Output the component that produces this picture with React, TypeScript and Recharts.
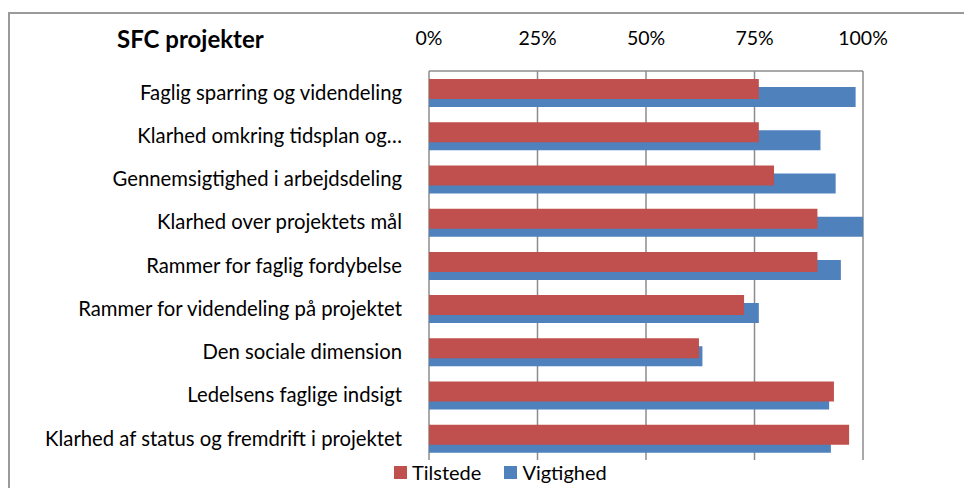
import React from 'react';
import { BarChart, Bar, XAxis, YAxis, CartesianGrid } from 'recharts';

const categories = [
  'Faglig sparring og videndeling',
  'Klarhed omkring tidsplan  og…',
  'Gennemsigtighed i arbejdsdeling',
  'Klarhed over projektets mål',
  'Rammer for faglig fordybelse',
  'Rammer for videndeling på projektet',
  'Den sociale dimension',
  'Ledelsens faglige indsigt',
  'Klarhed af status og fremdrift i projektet',
];
const tilstede = [76, 76, 79.5, 89.5, 89.5, 72.6, 62.2, 93.3, 96.8];
const vigtighed = [98.3, 90.2, 93.7, 100, 94.9, 76, 63, 92.2, 92.6];
const xTicks = [0, 25, 50, 75, 100];
const bandBoundaries = [0, 1, 2, 3, 4, 5, 6, 7, 8, 9];
const seriesNames = ['Tilstede', 'Vigtighed'];
const seriesColors = ['#C0504D', '#4F81BD'];
const title = 'SFC projekter';

const data = categories.map((name, i) => ({
  name,
  Tilstede: tilstede[i],
  Vigtighed: vigtighed[i],
}));

const FONT = 'Lato, "Open Sans", sans-serif';
const GRID = '#8c8c8c';

export default function App() {
  return (
    <div style={{ position: 'relative', width: 964, height: 480, overflow: 'hidden', fontFamily: FONT }}>
      <div
        style={{
          position: 'absolute',
          left: 0,
          top: 4,
          width: 1000,
          height: 1000,
          border: '2px solid #9a9a9a',
          boxSizing: 'border-box',
        }}
      />
      <div
        style={{
          position: 'absolute',
          left: 109,
          top: 17,
          fontSize: 24,
          fontWeight: 700,
          lineHeight: '28px',
          color: '#000',
        }}
      >
        {title}
      </div>
      <div style={{ position: 'absolute', left: 0, top: 0 }}>
        <BarChart
          width={964}
          height={480}
          data={data}
          layout="vertical"
          margin={{ top: 0, right: 109, bottom: 28, left: 0 }}
        >
          <CartesianGrid horizontal={false} vertical={true} stroke={GRID} strokeWidth={1.5} />
          <XAxis
            type="number"
            orientation="top"
            domain={[0, 100]}
            ticks={xTicks}
            tickFormatter={(v: number) => `${v}%`}
            height={63}
            tickLine={false}
            tickSize={0}
            tickMargin={26}
            axisLine={{ stroke: GRID, strokeWidth: 1.5 }}
            tick={{ fontSize: 19.5, fill: '#000', fontFamily: FONT }}
            interval={0}
          />
          <YAxis
            yAxisId="labels"
            type="category"
            dataKey="name"
            width={421}
            tickLine={false}
            axisLine={false}
            tickSize={0}
            tickMargin={27}
            interval={0}
            tick={{ fontSize: 20.3, fill: '#000', fontFamily: FONT }}
          />
          <YAxis
            yAxisId="bounds"
            type="number"
            domain={[0, 9]}
            ticks={bandBoundaries}
            allowDataOverflow
            width={0}
            tick={false}
            tickSize={6}
            tickLine={{ stroke: GRID, strokeWidth: 1.5 }}
            axisLine={{ stroke: GRID, strokeWidth: 1.5 }}
            interval={0}
          />
          <YAxis
            yAxisId="blue"
            type="category"
            dataKey="name"
            hide
            width={0}
            padding={{ top: 4, bottom: -4 }}
          />
          <YAxis
            yAxisId="red"
            type="category"
            dataKey="name"
            hide
            width={0}
            padding={{ top: -4, bottom: 4 }}
          />
          <Bar
            yAxisId="blue"
            dataKey={seriesNames[1]}
            fill={seriesColors[1]}
            barSize={20}
            isAnimationActive={false}
          />
          <Bar
            yAxisId="red"
            dataKey={seriesNames[0]}
            fill={seriesColors[0]}
            barSize={20}
            isAnimationActive={false}
          />
        </BarChart>
      </div>
      <div
        style={{
          position: 'absolute',
          left: 386,
          top: 452,
          display: 'flex',
          alignItems: 'center',
          fontSize: 20,
          lineHeight: '24px',
          color: '#000',
        }}
      >
        {seriesNames.map((n, i) => (
          <div key={n} style={{ display: 'flex', alignItems: 'center', marginRight: i === 0 ? 23 : 0 }}>
            <div style={{ width: 13, height: 13, background: seriesColors[i], marginRight: 5 }} />
            <span>{n}</span>
          </div>
        ))}
      </div>
    </div>
  );
}
